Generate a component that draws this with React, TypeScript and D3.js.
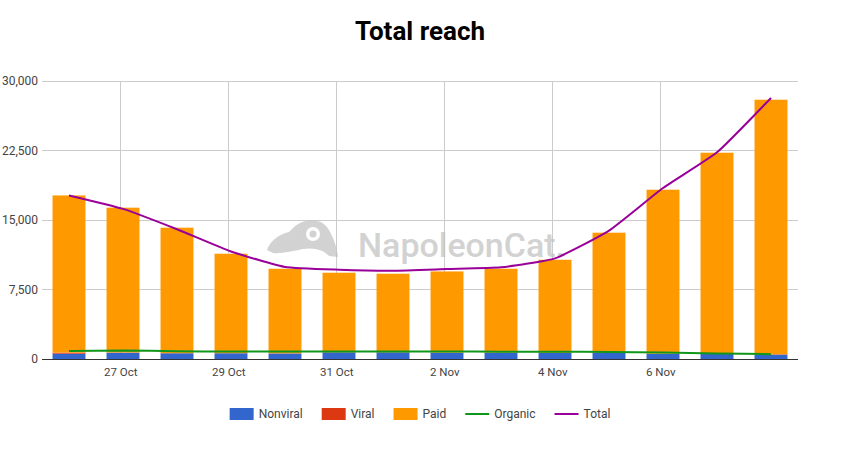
import React, { useEffect, useRef } from "react";
import * as d3 from "d3";

const days = [
  "2019-10-26", "2019-10-27", "2019-10-28", "2019-10-29", "2019-10-30", "2019-10-31", "2019-11-01",
  "2019-11-02", "2019-11-03", "2019-11-04", "2019-11-05", "2019-11-06", "2019-11-07", "2019-11-08",
];
const nonviral = [570, 680, 620, 620, 600, 720, 720, 680, 680, 650, 680, 570, 540, 470];
const viral = [120, 20, 10, 10, 10, 10, 10, 10, 10, 10, 10, 10, 10, 40];
const paid = [16960, 15630, 13540, 10730, 9130, 8580, 8470, 8760, 9050, 10050, 12940, 17690, 21710, 27470];
const organic = [860, 930, 830, 800, 800, 800, 810, 810, 790, 780, 760, 700, 600, 520];
const total = [17650, 16200, 14000, 11600, 9930, 9640, 9530, 9710, 9890, 10860, 13850, 18450, 22300, 28170];
const yTicks = [0, 7500, 15000, 22500, 30000];
const xTickDays = ["2019-10-27", "2019-10-29", "2019-10-31", "2019-11-02", "2019-11-04", "2019-11-06"];

const W = 841;
const H = 450;
const FONT = "Roboto, 'Noto Sans', sans-serif";
const COLORS = { nonviral: "#3366cc", viral: "#dc3912", paid: "#ff9900", organic: "#109618", total: "#990099" };

export default function App() {
  const ref = useRef<SVGSVGElement>(null);
  useEffect(() => {
    const svg = d3.select(ref.current);
    svg.selectAll("*").remove();

    const parse = (s: string) => new Date(s + "T00:00:00Z");
    const hour = 3600 * 1000;
    const dates = days.map(parse);
    // bars sit at date + 1h, domain half a day on each side
    const barT = (d: Date) => new Date(d.getTime() + hour);
    const x = d3
      .scaleUtc()
      .domain([new Date(dates[0].getTime() + hour - 12 * hour), new Date(dates[dates.length - 1].getTime() + hour + 12 * hour)])
      .range([42, 798]);
    const y = d3.scaleLinear().domain([0, 30000]).range([359, 81]);
    const step = x(dates[1]) - x(dates[0]);
    const bw = step * 0.61;

    // title
    svg.append("text").attr("x", 420).attr("y", 40).attr("text-anchor", "middle")
      .style("font-family", FONT).style("font-weight", 700).style("font-size", "26px").attr("fill", "#000")
      .text("Total reach");

    // horizontal grid
    const g = svg.append("g");
    g.selectAll("line.h").data(yTicks.filter((t) => t > 0)).join("line")
      .attr("x1", 42).attr("x2", 798).attr("y1", (d) => y(d)).attr("y2", (d) => y(d))
      .attr("stroke", "#cccccc").attr("stroke-width", 1).attr("shape-rendering", "crispEdges");
    // vertical grid
    g.selectAll("line.v").data(xTickDays.map(parse)).join("line")
      .attr("x1", (d) => x(d)).attr("x2", (d) => x(d)).attr("y1", 81).attr("y2", 359)
      .attr("stroke", "#cccccc").attr("stroke-width", 1).attr("shape-rendering", "crispEdges");

    // y labels
    svg.selectAll("text.yl").data(yTicks).join("text")
      .attr("x", 38).attr("y", (d) => y(d)).attr("dy", "0.35em").attr("text-anchor", "end")
      .style("font-family", FONT).style("font-size", "12px").attr("fill", "#444")
      .text((d) => d3.format(",")(d));

    // x labels
    svg.selectAll("text.xl").data(xTickDays.map(parse)).join("text")
      .attr("x", (d) => x(d)).attr("y", 376).attr("text-anchor", "middle")
      .style("font-family", FONT).style("font-size", "11.5px").attr("fill", "#444")
      .text((d) => d3.utcFormat("%-d %b")(d));

    // stacked bars
    const rows = days.map((_, i) => ({ i, nonviral: nonviral[i], viral: viral[i], paid: paid[i] }));
    const stack = d3.stack<any>().keys(["nonviral", "viral", "paid"])(rows);
    stack.forEach((layer) => {
      svg.append("g").selectAll("rect").data(layer).join("rect")
        .attr("x", (d: any) => x(barT(dates[d.data.i])) - bw / 2)
        .attr("width", bw)
        .attr("y", (d) => y(d[1]))
        .attr("height", (d) => Math.max(0, y(d[0]) - y(d[1])))
        .attr("fill", (COLORS as any)[layer.key]);
    });

    // watermark
    const wm = svg.append("g").attr("opacity", 0.72);
    wm.append("path")
      .attr("transform", "translate(267,219)")
      .attr("d", "M0,31 C3,22 12,15 22,13 L27,8 C36,0 52,-2 60,8 C66,17 70,28 71,38 L62,37 C57,31 47,28 36,30 C26,32 14,35 6,34 Z")
      .attr("fill", "#c2c2c2");
    wm.append("circle").attr("cx", 313).attr("cy", 234).attr("r", 7).attr("fill", "#fff");
    wm.append("circle").attr("cx", 313).attr("cy", 234).attr("r", 3.5).attr("fill", "#c2c2c2");
    wm.append("text").attr("x", 358).attr("y", 257)
      .style("font-family", FONT).style("font-weight", 500).style("font-size", "33px").attr("fill", "#c2c2c2")
      .attr("textLength", 207).attr("lengthAdjust", "spacingAndGlyphs")
      .text("NapoleonCat.");

    // baseline
    svg.append("line").attr("x1", 42).attr("x2", 798).attr("y1", y(0)).attr("y2", y(0))
      .attr("stroke", "#333").attr("stroke-width", 1).attr("shape-rendering", "crispEdges");

    // lines
    const line = (vals: number[]) =>
      d3.line<number>().x((_, i) => x(barT(dates[i]))).y((d) => y(d)).curve(d3.curveCardinal.tension(0.55))(vals);
    svg.append("path").attr("d", line(organic)).attr("fill", "none").attr("stroke", COLORS.organic).attr("stroke-width", 2);
    svg.append("path").attr("d", line(total)).attr("fill", "none").attr("stroke", COLORS.total).attr("stroke-width", 2);

    // legend
    const items = [
      { key: "nonviral", label: "Nonviral", type: "rect" },
      { key: "viral", label: "Viral", type: "rect" },
      { key: "paid", label: "Paid", type: "rect" },
      { key: "organic", label: "Organic", type: "line" },
      { key: "total", label: "Total", type: "line" },
    ];
    const lg = svg.append("g");
    const ly = 414;
    let cx = 0;
    const placed: { g: any; w: number }[] = [];
    items.forEach((it) => {
      const ig = lg.append("g").attr("transform", `translate(${cx},0)`);
      if (it.type === "rect") {
        ig.append("rect").attr("x", 0).attr("y", ly - 6).attr("width", 24).attr("height", 12).attr("fill", (COLORS as any)[it.key]);
      } else {
        ig.append("line").attr("x1", 0).attr("x2", 24).attr("y1", ly).attr("y2", ly)
          .attr("stroke", (COLORS as any)[it.key]).attr("stroke-width", 2);
      }
      const t = ig.append("text").attr("x", 29).attr("y", ly).attr("dy", "0.35em")
        .style("font-family", FONT).style("font-size", "12px").attr("fill", "#444").text(it.label);
      const tw = (t.node() as SVGTextElement).getComputedTextLength();
      const w = 29 + tw;
      placed.push({ g: ig, w });
      cx += w + 19;
    });
    const totalW = cx - 19;
    lg.attr("transform", `translate(${420 - totalW / 2},0)`);
  }, []);

  return (
    <svg
      ref={ref}
      width={W}
      height={H}
      style={{ position: "absolute", left: 0, top: 0, background: "#fff" }}
    />
  );
}
